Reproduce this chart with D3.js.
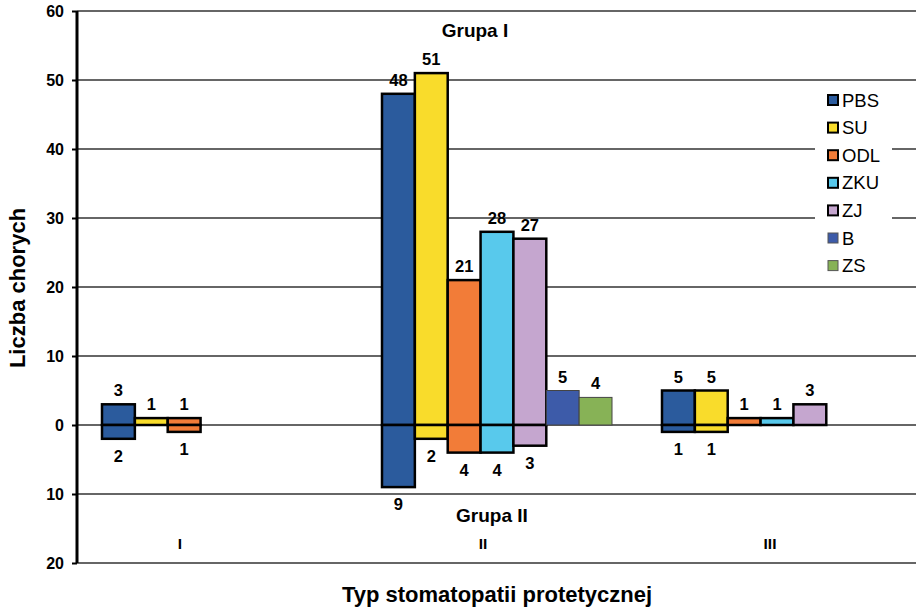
<!DOCTYPE html>
<html>
<head>
<meta charset="utf-8">
<script src="https://d3js.org/d3.v7.min.js"></script>
<style>
    body { margin: 0; background: #fff; }
    text { font-family: "Liberation Sans", Arial, sans-serif; }
    .value-label { font-size: 16.5px; font-weight: bold; }
    .legend-text { font-size: 18.5px; }
</style>
</head>
<body>
<div id="chart"></div>
<script>
    // categories (typ stomatopatii) and series
    const categories = ['I', 'II', 'III'];
    const series = ['PBS', 'SU', 'ODL', 'ZKU', 'ZJ', 'B', 'ZS'];
    const colors = ['#2b5b9d', '#f9dc2b', '#f27c38', '#58c9ec', '#c5a6cf', '#3d5ba9', '#87b256'];

    // Grupa I (above zero), per category, in series order
    const grupaI = [
        [3, 1, 1, 0, 0, 0, 0],
        [48, 51, 21, 28, 27, 5, 4],
        [5, 5, 1, 1, 3, 0, 0]
    ];
    // Grupa II (below zero)
    const grupaII = [
        [2, 0, 1, 0, 0, 0, 0],
        [9, 2, 4, 4, 3, 0, 0],
        [1, 1, 0, 0, 0, 0, 0]
    ];
    const yTicks = [-20, -10, 0, 10, 20, 30, 40, 50, 60];

    const W = 916, H = 610;
    const margin = { top: 11, right: 0, bottom: 47, left: 77 };

    const svg = d3.select('#chart').append('svg')
        .attr('width', W)
        .attr('height', H);

    const x = d3.scaleBand()
        .domain(categories)
        .range([margin.left, W + 1])
        .padding(0);

    const xs = d3.scaleBand()
        .domain(series)
        .range([25, x.bandwidth() - 25])
        .padding(0);

    const y = d3.scaleLinear()
        .domain([-20, 60])
        .range([H - margin.bottom, margin.top]);

    // gridlines
    svg.append('g')
        .selectAll('line')
        .data(yTicks)
        .join('line')
        .attr('x1', margin.left)
        .attr('x2', W)
        .attr('y1', d => y(d))
        .attr('y2', d => y(d))
        .attr('stroke', '#333')
        .attr('stroke-width', 1.5);

    // flatten the bars
    const bars = [];
    categories.forEach((c, i) => {
        series.forEach((s, j) => {
            if (grupaI[i][j] > 0) bars.push({ cat: c, s, j, v: grupaI[i][j], neg: false });
            if (grupaII[i][j] > 0) bars.push({ cat: c, s, j, v: grupaII[i][j], neg: true });
        });
    });

    const thin = s => s === 'B' || s === 'ZS';

    svg.append('g')
        .selectAll('rect')
        .data(bars)
        .join('rect')
        .attr('x', d => x(d.cat) + xs(d.s))
        .attr('width', xs.bandwidth())
        .attr('y', d => d.neg ? y(0) : y(d.v))
        .attr('height', d => Math.abs(y(d.v) - y(0)))
        .attr('fill', d => colors[d.j])
        .attr('stroke', d => thin(d.s) ? '#444' : '#000')
        .attr('stroke-width', d => thin(d.s) ? 1 : 2.5);

    // value labels
    svg.append('g')
        .selectAll('text')
        .data(bars)
        .join('text')
        .attr('class', 'value-label')
        .attr('x', d => x(d.cat) + xs(d.s) + xs.bandwidth() / 2)
        .attr('y', d => d.neg ? y(-d.v) + 23 : y(d.v) - 8)
        .attr('text-anchor', 'middle')
        .text(d => d.v);

    // y axis
    const yAxis = svg.append('g')
        .attr('transform', `translate(${margin.left},0)`)
        .call(d3.axisLeft(y).tickValues(yTicks).tickSize(5).tickPadding(8).tickFormat(d => Math.abs(d)));
    yAxis.select('.domain').attr('stroke', '#000').attr('stroke-width', 3)
        .attr('d', `M0,${y(60)}V${y(-20)}`);
    yAxis.selectAll('.tick line').attr('stroke', '#000').attr('stroke-width', 2);
    yAxis.selectAll('.tick text')
        .attr('fill', '#000')
        .style('font-size', '16px')
        .style('font-weight', 'bold')
        .style('font-family', '"Liberation Sans", Arial, sans-serif');

    // category labels
    svg.append('g')
        .selectAll('text')
        .data(categories)
        .join('text')
        .attr('x', d => x(d) + x.bandwidth() / 2 - (d === 'I' ? 37 : d === 'II' ? 14 : 7))
        .attr('y', 549)
        .attr('text-anchor', 'middle')
        .style('font-size', '15.5px')
        .style('font-weight', 'bold')
        .text(d => d);

    // group titles
    svg.append('text')
        .attr('x', x('II') + x.bandwidth() / 2 - 22)
        .attr('y', 37)
        .attr('text-anchor', 'middle')
        .style('font-size', '19px')
        .style('font-weight', 'bold')
        .text('Grupa I');
    svg.append('text')
        .attr('x', x('II') + x.bandwidth() / 2 - 5)
        .attr('y', 522)
        .attr('text-anchor', 'middle')
        .style('font-size', '19px')
        .style('font-weight', 'bold')
        .text('Grupa II');

    // axis titles
    svg.append('text')
        .attr('transform', `translate(25,${y(20) + 1}) rotate(-90)`)
        .attr('text-anchor', 'middle')
        .style('font-size', '22px')
        .style('font-weight', 'bold')
        .text('Liczba chorych');
    svg.append('text')
        .attr('x', x('II') + x.bandwidth() / 2)
        .attr('y', 602)
        .attr('text-anchor', 'middle')
        .style('font-size', '22px')
        .style('font-weight', 'bold')
        .text('Typ stomatopatii protetycznej');

    // legend
    const legend = svg.append('g').attr('transform', 'translate(815,86)');
    legend.append('rect')
        .attr('width', 77)
        .attr('height', 194)
        .attr('fill', '#fff');
    const item = legend.selectAll('g')
        .data(series)
        .join('g')
        .attr('transform', (d, i) => `translate(13,${14 + i * 27.6})`);
    item.append('rect')
        .attr('x', 0)
        .attr('y', -5)
        .attr('width', 10)
        .attr('height', 10)
        .attr('fill', (d, i) => colors[i])
        .attr('stroke', d => thin(d) ? '#555' : '#000')
        .attr('stroke-width', d => thin(d) ? 1 : 2);
    item.append('text')
        .attr('class', 'legend-text')
        .attr('x', 14)
        .attr('y', 6.5)
        .text(d => d);
</script>
</body>
</html>
